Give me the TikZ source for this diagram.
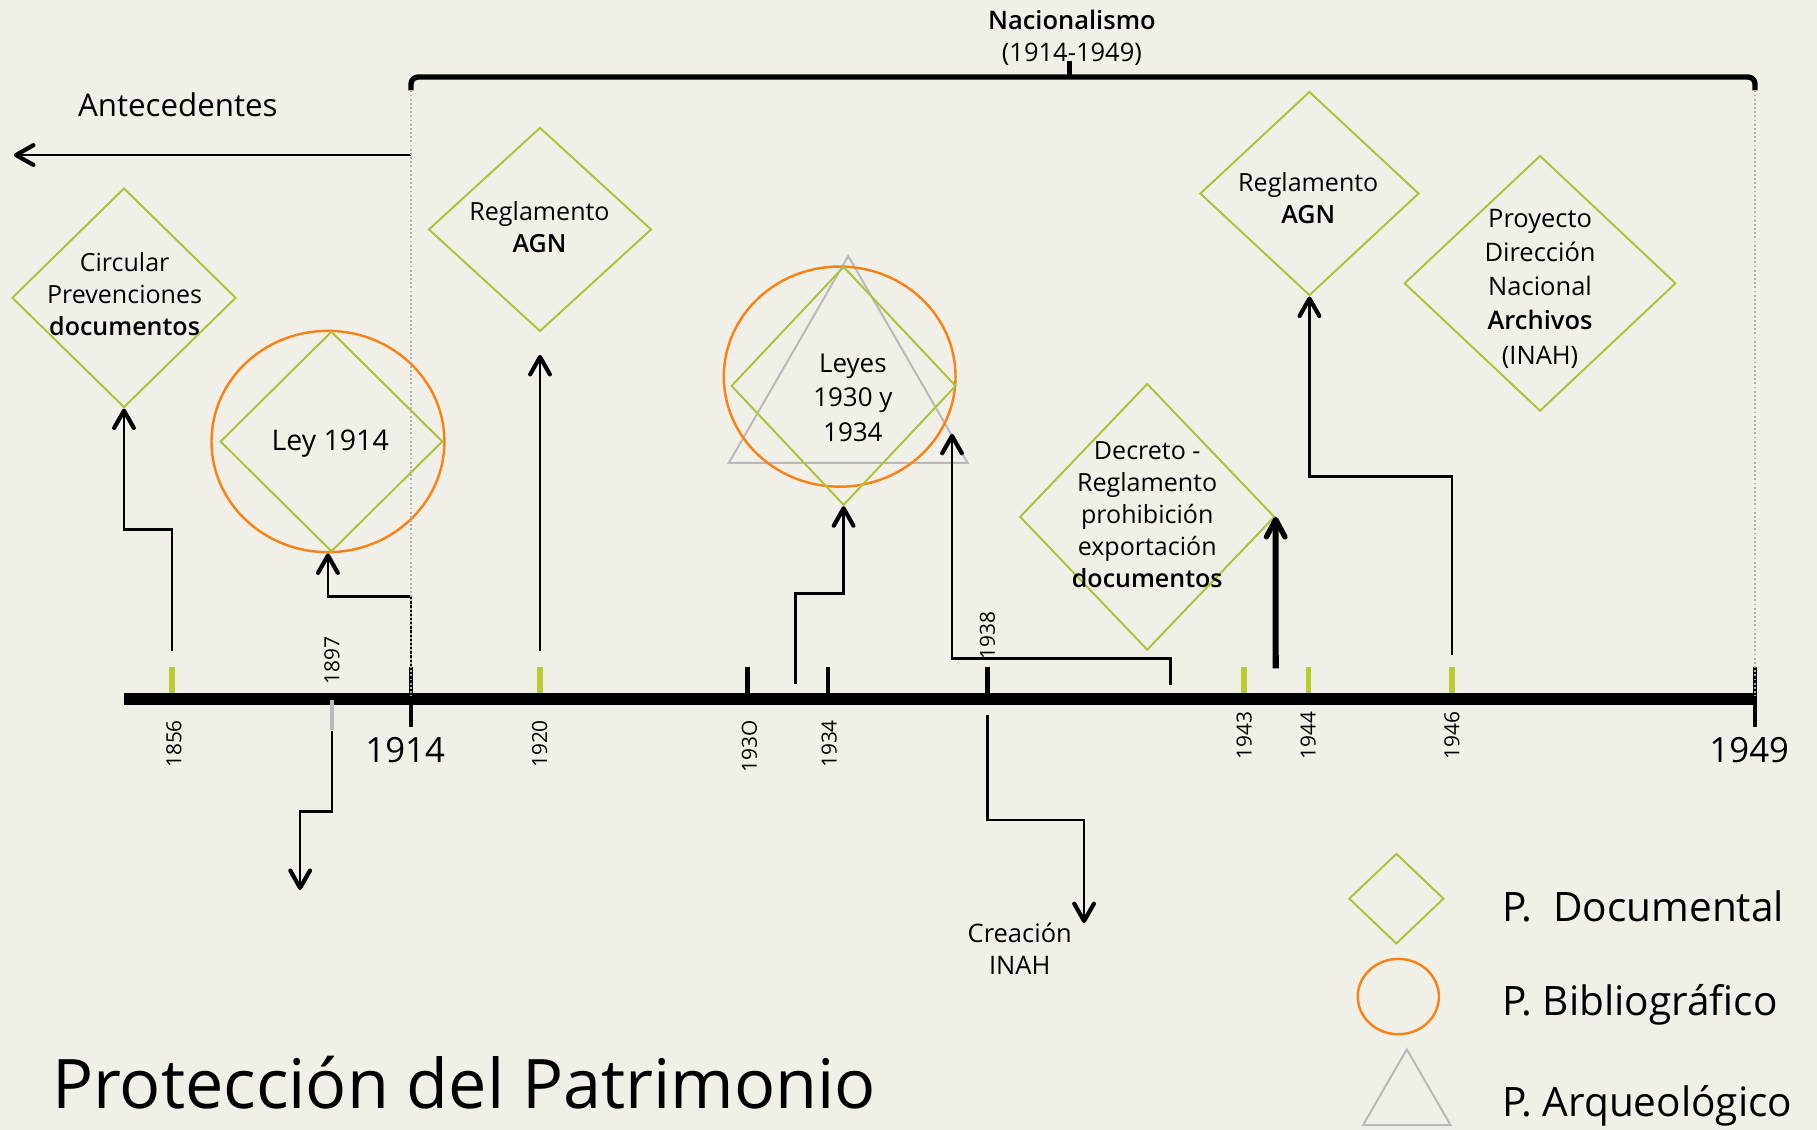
\documentclass[tikz,border=0pt]{standalone}
\usepackage{fontspec}
\setmainfont{Open Sans}[BoldFont={Open Sans Semibold}]
\usetikzlibrary{arrows.meta,shapes.geometric}

\newcommand\diafont{\fontsize{10.8}{13.8}\selectfont}
\newcommand\projfont{\fontsize{11}{14.7}\selectfont}
\newcommand\leyesfont{\fontsize{11.2}{14.85}\selectfont}
\newcommand\leyfont{\fontsize{12.3}{14}\selectfont}
\newcommand\antefont{\fontsize{13.5}{16}\selectfont}
\newcommand\patfont{\fontsize{29.5}{34}\selectfont}
\newcommand\legfont{\fontsize{17.5}{20}\selectfont}
\newcommand\bigyrfont{\fontsize{15}{18}\selectfont}
\newcommand\yrfont{\fontsize{9}{11}\selectfont}
\newcommand\nacfont{\fontsize{11}{13.7}\selectfont}
\newcommand\inahfont{\fontsize{11}{13.8}\selectfont}

\begin{document}
\begin{tikzpicture}[x=0.5pt,y=-0.5pt,
  docbox/.style={diamond,draw=docgreen,line width=0.85pt,inner sep=0pt},
  biblio/.style={ellipse,draw=biborange,line width=1.05pt,inner sep=0pt},
  arqueo/.style={regular polygon,regular polygon sides=3,draw=arqgray,line width=0.85pt,inner sep=0pt},
  boxtext/.style={align=center,font=\diafont},
  yearlbl/.style={rotate=90,inner sep=0pt,font=\yrfont},
  conn/.style={line width=1.15pt,-{Straight Barb[length=7.5pt,width=8.5pt,line width=1.8pt,round]}},
  thickconn/.style={line width=2.6pt,-{Straight Barb[length=7.5pt,width=8pt,line width=2.3pt,round]}},
  guide/.style={draw=guidegray,line width=0.7pt,dash pattern=on 0.8pt off 1pt}]
  \definecolor{bgcol}{RGB}{241,240,232}
  \definecolor{docgreen}{RGB}{172,196,58}
  \definecolor{tickgreen}{RGB}{184,204,48}
  \definecolor{biborange}{RGB}{252,128,20}
  \definecolor{arqgray}{RGB}{185,185,185}
  \definecolor{guidegray}{RGB}{175,175,175}

  \useasboundingbox (0,0) rectangle (1568,975);
  \fill[bgcol] (0,0) rectangle (1568,975);

  % periodo
  \node[align=center,font=\nacfont] (nac) at (925,32.4) {\textbf{Nacionalismo}\\(1914-1949)};
  \draw[line width=2.3pt,rounded corners=3pt] (354.7,78) -- (354.7,66.5) -- (1514.5,66.5) -- (1514.5,78);
  \draw[line width=2pt] (923,66.5) -- (923,53);
  \node[anchor=base,font=\antefont] (ante) at (153.5,100.7) {Antecedentes};

  % linea de tiempo
  \draw[line width=5.3pt] (107,603.3) -- (1515,603.3);
  \foreach \x in {148.4,466,1073.6,1129,1253}
    \draw[tickgreen,line width=2.4pt] (\x,576) -- (\x,598);
  \foreach \x in {645,714.6,852}
    \draw[line width=2pt] (\x,576) -- (\x,600);
  \foreach \x in {354.7,1514.5}
    \draw[line width=2pt] (\x,576) -- (\x,627);
  \draw[arqgray,line width=2pt] (286.5,604) -- (286.5,630);

  \foreach \x/\yr in {150/1856,465.6/1920,646.7/193O,715.6/1934}
    \node[yearlbl,anchor=east] (y\yr) at (\x,621) {\yr};
  \foreach \x/\yr in {1073.6/1943,1128.8/1944,1253/1946}
    \node[yearlbl,anchor=east] (y\yr) at (\x,614) {\yr};
  \node[yearlbl,anchor=west] (y1897) at (286.5,591) {1897};
  \node[yearlbl,anchor=west] (y1938) at (852,569.5) {1938};
  \node[anchor=base,font=\bigyrfont] (y1914) at (349.6,658) {1914};
  \node[anchor=base,font=\bigyrfont] (y1949) at (1509.5,658) {1949};

  % patrimonios
  \node[docbox,minimum width=96.7pt,minimum height=94.7pt] (doc1856) at (107,257) {};
  \node[boxtext] (txt1856) at (107.5,253.9) {Circular\\Prevenciones\\\textbf{documentos}};

  \node[biblio,minimum width=100.5pt,minimum height=95.5pt] (bib1914) at (283,381) {};
  \node[docbox,minimum width=96pt,minimum height=95pt] (doc1914) at (286,381) {};
  \node[anchor=base,font=\leyfont] (txt1914) at (285,389) {Ley 1914};

  \node[docbox,minimum width=96.2pt,minimum height=88pt] (doc1920) at (466,198) {};
  \node[boxtext] (txt1920) at (465.6,195.6) {Reglamento\\\textbf{AGN}};

  \node[arqueo,minimum size=119pt] (arq1930) at (732,340) {};
  \node[biblio,minimum width=100pt,minimum height=95pt] (bib1930) at (724.6,325) {};
  \node[docbox,minimum width=97pt,minimum height=103pt] (doc1930) at (728,333) {};
  \node[align=center,font=\leyesfont] (txt1930) at (736,343.3) {Leyes\\1930 y\\1934};

  \node[docbox,minimum width=110pt,minimum height=115pt] (doc1938) at (990,446) {};
  \node[boxtext] (txt1938) at (990,443.9) {Decreto -\\Reglamento\\prohibición\\exportación\\\textbf{documentos}};

  \node[docbox,minimum width=94.5pt,minimum height=88pt] (doc1944) at (1130,167) {};
  \node[boxtext] (txt1944) at (1129,170.6) {Reglamento\\\textbf{AGN}};

  \node[docbox,minimum width=117.2pt,minimum height=110.3pt] (docarch) at (1329,244.5) {};
  \node[align=center,font=\projfont] (txtarch) at (1329,249.2) {Proyecto\\Dirección\\Nacional\\\textbf{Archivos}\\(INAH)};

  \node[align=center,font=\inahfont] (inah) at (880,819.1) {Creación\\INAH};

  % conectores
  \coordinate (c1856) at (148.4,561.5);
  \coordinate (c1897) at (286.5,631);
  \coordinate (e1897) at (259,768);
  \coordinate (c1914) at (354.7,576);
  \coordinate (c1914a) at (354.7,133.8);
  \coordinate (eante) at (12,133.8);
  \coordinate (c1920) at (466,561.5);
  \coordinate (c1932) at (686.6,590);
  \coordinate (c1938) at (1010,591);
  \coordinate (c1938b) at (852.3,617);
  \coordinate (e1938) at (935.5,796.6);
  \coordinate (c1943) at (1100.9,576.7);
  \coordinate (c1946) at (1253,565);

  \draw[conn] (c1914a) -- (eante);
  \draw[conn] (c1856) -- ++(0,-104.7) -| (doc1856.south);
  \draw[conn] (c1914) -- ++(0,-61) -| (bib1914.south);
  \draw[conn] (c1897) -- ++(0,69.4) -| (e1897);
  \draw[conn,shorten >=9.7pt] (c1920) -- (doc1920.south);
  \draw[conn] (c1932) -- ++(0,-78) -| (doc1930.south);
  \draw[conn] (c1938) -- ++(0,-22.5) -| (arq1930.-21);
  \draw[conn] (c1938b) -- ++(0,90.6) -| (e1938);
  \draw[thickconn] (c1943) -- (doc1938.east);
  \draw[conn] (c1946) -- ++(0,-154) -| (doc1944.south);

  \draw[guide] (354.7,78) -- (354.7,601);
  \draw[guide] (1514.5,78) -- (1514.5,601);

  % leyenda
  \node[docbox,minimum width=41pt,minimum height=39pt] (legdoc) at (1205,775.5) {};
  \node[biblio,minimum width=35pt,minimum height=32.5pt] (legbib) at (1206.7,860) {};
  \node[arqueo,minimum size=43.6pt] (legarq) at (1214,949.1) {};
  \node[anchor=base west,inner sep=0pt,font=\legfont] (leg1) at (1296,794.8) {P.\ \ Documental};
  \node[anchor=base west,inner sep=0pt,font=\legfont] (leg2) at (1296,876) {P. Bibliográfico};
  \node[anchor=base west,inner sep=0pt,font=\legfont] (leg3) at (1296,963.6) {P. Arqueológico};

  \node[anchor=base west,inner sep=0pt,font=\patfont] (titulo) at (44.5,956.4) {Protección del Patrimonio};
\end{tikzpicture}
\end{document}
